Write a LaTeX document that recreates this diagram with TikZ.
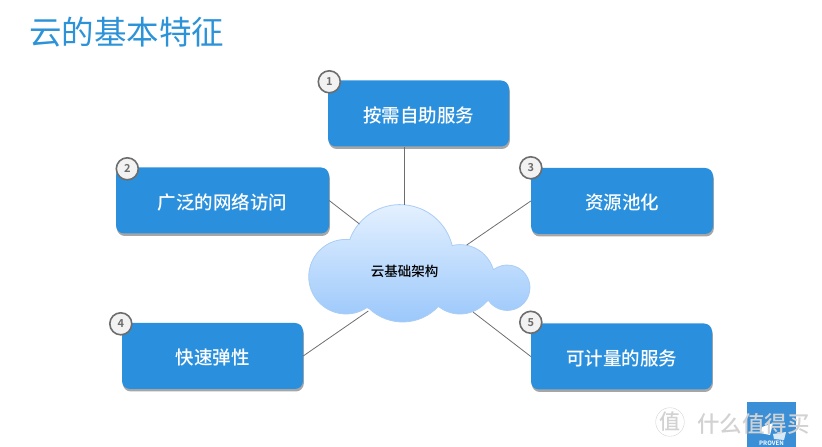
\documentclass[tikz,border=0pt]{standalone}
\usepackage{fontspec}
\setmainfont[BoldFont={Noto Sans CJK SC Bold}]{Noto Sans CJK SC Medium}
\newfontfamily\titlefont{Noto Sans CJK SC}
\usepackage{tikz}
\usetikzlibrary{shadows}
\definecolor{titleblue}{HTML}{2D93D8}
\definecolor{boxblue}{HTML}{2A90DD}
\definecolor{cloudline}{HTML}{A9CDF5}
\definecolor{cloudtopfill}{HTML}{E8F3FF}
\definecolor{cloudbottomfill}{HTML}{98C6FB}
\definecolor{linegray}{HTML}{6E6E6E}
\definecolor{badgegray}{HTML}{6D6D6D}
\definecolor{logoblue}{HTML}{3A8FD6}
\definecolor{markgray}{HTML}{D2D2D2}

\begin{document}
\begin{tikzpicture}[x=1pt,y=1pt,
featurebox/.style={rectangle,rounded corners=8pt,fill=boxblue,text=white,minimum height=66pt,inner sep=0pt,text height=19pt,font=\fontsize{18.5}{20}\selectfont,drop shadow={shadow xshift=0.8pt,shadow yshift=-2.5pt,fill=black,opacity=0.35}},
badge/.style={circle,draw=badgegray,line width=1.6pt,fill=white!95!black,text=badgegray,minimum size=22pt,inner sep=0pt,font=\fontsize{11}{12}\selectfont\bfseries},
spoke/.style={draw=linegray,line width=0.8pt}]
\useasboundingbox (0,0) rectangle (822,447);
\node [anchor=west,text=titleblue,inner sep=0pt,font=\fontsize{32.5}{34}\selectfont\titlefont] (title) at (29,415) {云的基本特征};
\node [featurebox,minimum width=181pt] (box1) at (418.5,333.5) {按需自助服务};
\node [featurebox,minimum width=213pt] (box2) at (222.5,246.5) {广泛的网络访问};
\node [featurebox,minimum width=182pt] (box3) at (622,246) {资源池化};
\node [featurebox,minimum width=181pt] (box4) at (212.5,91) {快速弹性};
\node [featurebox,minimum width=181pt] (box5) at (621.5,90.5) {可计量的服务};
\node [badge] (badge1) at ([shift={(1.5,-1.5)}]box1.north west) {1};
\node [badge] (badge2) at ([shift={(11.5,-1.5)}]box2.north west) {2};
\node [badge] (badge3) at (box3.north west) {3};
\node [badge] (badge4) at ([shift={(-1,-1)}]box4.north west) {4};
\node [badge] (badge5) at ([shift={(0,1)}]box5.north west) {5};
\shade [draw=cloudline,line width=0.8pt,top color=cloudtopfill,bottom color=cloudbottomfill]
	(350.2,208.8) arc[start angle=158,end angle=13.5,radius=53.7]
	-- (452.8,201.6) arc[start angle=102,end angle=18.6,radius=34.7]
	-- (493.6,177.4) arc[start angle=127,end angle=-146,radius=22.7]
	-- (486.6,145.4) arc[start angle=-40,end angle=-128.4,radius=34.7]
	-- (438.3,140.5) arc[start angle=-43,end angle=-133,radius=48.7]
	-- (366.9,139.4) arc[start angle=-56,end angle=-276,radius=37.3] -- cycle;
\coordinate (cloudtop) at (404,242);
\coordinate (cloudnw) at (359.5,223);
\coordinate (cloudne) at (466.7,202);
\coordinate (cloudsw) at (368.3,136);
\coordinate (cloudse) at (473,135);
\node [text=black,inner sep=0pt,font=\fontsize{13.5}{14}\selectfont] (cloudlabel) at (404.5,176) {云基础架构};
\draw [spoke] (box1.south -| cloudtop) -- (cloudtop);
\draw [spoke] (box2.east) -- (cloudnw);
\draw [spoke] (box3.west) -- (cloudne);
\draw [spoke] (box4.east) -- (cloudsw);
\draw [spoke] (box5.west) -- (cloudse);
\node [rectangle,fill=logoblue,minimum width=49pt,minimum height=45pt,inner sep=0pt] (logo) at (771.5,22.5) {};
\fill [white] (762,20) -- (773,24) -- (770,12) -- (760,14) -- cycle;
\fill [white!80!logoblue] (773,13) -- (786,15) -- (784,7) -- (774,8) -- cycle;
\node [text=white,inner sep=0pt,font=\fontsize{6}{7}\selectfont\bfseries] (logotext) at (771.5,3.5) {PROVEN};
\node [circle,draw=markgray,text=markgray,minimum size=28pt,inner sep=0pt,font=\fontsize{21}{22}\selectfont] (markicon) at (670,25) {值};
\node [anchor=west,text=markgray,inner sep=0pt,font=\fontsize{22.5}{24}\selectfont] (marktext) at (697,23) {什么值得买};
\end{tikzpicture}
\end{document}
